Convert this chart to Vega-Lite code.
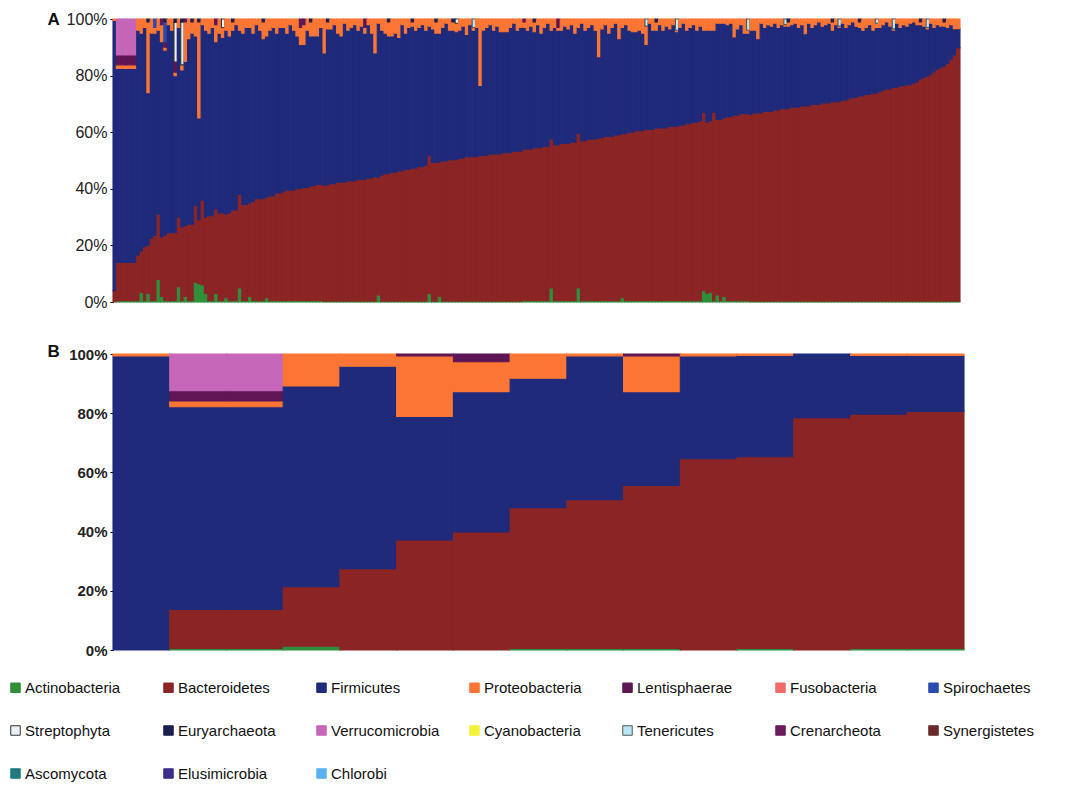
{
"$schema": "https://vega.github.io/schema/vega-lite/v6.json",
"background": "white",
"padding": {"left": 8, "top": 10, "right": 10, "bottom": 5},
"config": {"view": {"stroke": null}, "font": "Liberation Sans"},
"spacing": 52,
"bounds": "flush",
"datasets": {
"names": [
{"code":"Ac","phylum":"Actinobacteria","rank":1},
{"code":"Ba","phylum":"Bacteroidetes","rank":2},
{"code":"Fi","phylum":"Firmicutes","rank":3},
{"code":"Pr","phylum":"Proteobacteria","rank":4},
{"code":"Le","phylum":"Lentisphaerae","rank":5},
{"code":"Fu","phylum":"Fusobacteria","rank":6},
{"code":"Sp","phylum":"Spirochaetes","rank":7},
{"code":"St","phylum":"Streptophyta","rank":8},
{"code":"Eu","phylum":"Euryarchaeota","rank":9},
{"code":"Ve","phylum":"Verrucomicrobia","rank":10},
{"code":"Te","phylum":"Tenericutes","rank":11}
],
"B": [
{"s":1,"Fi":99.3,"Pr":0.7},
{"s":2,"Ac":0.5,"Ba":13.2,"Fi":68.5,"Pr":1.9,"Le":3.5,"Ve":12.4},
{"s":3,"Ac":0.5,"Ba":13.2,"Fi":68.5,"Pr":1.9,"Le":3.5,"Ve":12.4},
{"s":4,"Ac":1.3,"Ba":20.1,"Fi":67.8,"Pr":10.8},
{"s":5,"Ba":27.5,"Fi":68.4,"Pr":4.1},
{"s":6,"Ba":37.2,"Fi":41.7,"Pr":20.4,"Le":0.7},
{"s":7,"Ba":39.9,"Fi":47.4,"Pr":10.1,"Le":2.6},
{"s":8,"Ac":0.5,"Ba":47.6,"Fi":43.7,"Pr":8.2},
{"s":9,"Ac":0.5,"Ba":50.3,"Fi":48.5,"Pr":0.7},
{"s":10,"Ac":0.5,"Ba":55.1,"Fi":31.7,"Pr":12,"Le":0.7},
{"s":11,"Ba":64.6,"Fi":34.7,"Pr":0.7},
{"s":12,"Ac":0.5,"Ba":64.8,"Fi":34.2,"Pr":0.5},
{"s":13,"Ba":78.5,"Fi":21.5},
{"s":14,"Ac":0.5,"Ba":79.2,"Fi":19.8,"Pr":0.5},
{"s":15,"Ac":0.5,"Ba":80.1,"Fi":18.9,"Pr":0.5}
],
"A": [
{"s":0,"Ba":4,"Fi":95.5,"Pr":0.5},
{"s":1,"Ac":0.5,"Ba":13.5,"Fi":68.5,"Pr":1.3,"Le":3.5,"Ve":12.7},
{"s":2,"Ac":0.5,"Ba":13.5,"Fi":68.5,"Pr":1.3,"Le":3.5,"Ve":12.7},
{"s":3,"Ac":0.5,"Ba":13.5,"Fi":68.5,"Pr":1.3,"Le":3.5,"Ve":12.7},
{"s":4,"Ac":0.5,"Ba":13.5,"Fi":68.5,"Pr":1.3,"Le":3.5,"Ve":12.7},
{"s":5,"Ac":0.5,"Ba":13.5,"Fi":68.5,"Pr":1.3,"Le":3.5,"Ve":12.7},
{"s":6,"Ac":0.5,"Ba":13.5,"Fi":68.5,"Pr":1.3,"Le":3.5,"Ve":12.7},
{"s":7,"Ac":0.5,"Ba":16,"Fi":79.5,"Pr":4},
{"s":8,"Ac":3.4,"Ba":14.6,"Fi":77,"Pr":5},
{"s":9,"Ac":0.5,"Ba":19,"Fi":77.5,"Pr":3},
{"s":10,"Ac":3,"Ba":17,"Fi":54,"Pr":25,"Eu":1},
{"s":11,"Ac":0.5,"Ba":22,"Fi":72.5,"Pr":5},
{"s":12,"Ac":0.5,"Ba":23,"Fi":71.5,"Pr":2,"Sp":3},
{"s":13,"Ac":8,"Ba":23,"Fi":65,"Pr":4},
{"s":14,"Ac":2,"Ba":21,"Fi":69,"Pr":6,"Le":2},
{"s":15,"Ac":0.5,"Ba":23,"Fi":65.5,"Pr":1,"Sp":7,"Le":2,"Eu":1},
{"s":16,"Ac":0.5,"Ba":24,"Fi":73.5,"Pr":2},
{"s":17,"Ac":0.5,"Ba":24,"Fi":71.5,"Pr":4},
{"s":18,"Ac":0.5,"Ba":24,"Fi":55.5,"Pr":1.2,"Le":3.6,"St":14,"Eu":1.2},
{"s":19,"Ac":5.4,"Ba":24.6,"Fi":67,"Pr":3},
{"s":20,"Ac":0.5,"Ba":26,"Fi":55.5,"Pr":1.8,"St":15.2,"Eu":1},
{"s":21,"Ac":2,"Ba":25,"Fi":58,"Pr":14,"Le":1},
{"s":22,"Ac":0.5,"Ba":27,"Fi":65.5,"Pr":7},
{"s":23,"Ac":0.5,"Ba":27,"Fi":67.5,"Pr":4,"Eu":1},
{"s":24,"Ac":7,"Ba":27,"Fi":60,"Pr":6},
{"s":25,"Ac":6.5,"Ba":22.5,"Fi":36,"Pr":34,"Eu":1},
{"s":26,"Ac":6,"Ba":30,"Fi":62,"Pr":2},
{"s":27,"Ac":3,"Ba":27,"Fi":66,"Pr":4},
{"s":28,"Ac":0.5,"Ba":30,"Fi":64.5,"Pr":5},
{"s":29,"Ac":0.5,"Ba":30,"Fi":66.5,"Pr":3},
{"s":30,"Ac":3,"Ba":30,"Fi":59,"Pr":6,"Le":2},
{"s":31,"Ac":0.5,"Ba":31,"Fi":63.5,"Pr":5},
{"s":32,"Ac":0.5,"Ba":31,"Fi":62,"Pr":3.5,"St":3},
{"s":33,"Ac":1.5,"Ba":29.5,"Fi":65,"Pr":4},
{"s":34,"Ac":0.5,"Ba":31,"Fi":62.5,"Pr":6},
{"s":35,"Ac":0.5,"Ba":32,"Fi":63.5,"Pr":3,"Eu":1},
{"s":36,"Ac":0.5,"Ba":32,"Fi":65.5,"Pr":2},
{"s":37,"Ac":5,"Ba":33,"Fi":58,"Pr":4},
{"s":38,"Ac":0.5,"Ba":34,"Fi":60.5,"Pr":5},
{"s":39,"Ac":0.5,"Ba":34,"Fi":62.5,"Pr":3},
{"s":40,"Ac":2,"Ba":33,"Fi":62,"Pr":3},
{"s":41,"Ac":0.5,"Ba":35,"Fi":59.5,"Pr":5},
{"s":42,"Ac":0.5,"Ba":36,"Fi":61.5,"Pr":2},
{"s":43,"Ac":0.5,"Ba":36,"Fi":59.5,"Pr":4},
{"s":44,"Ac":0.5,"Ba":36,"Fi":56.5,"Pr":6,"Eu":1},
{"s":45,"Ac":1.5,"Ba":35.5,"Fi":57,"Pr":6},
{"s":46,"Ac":0.5,"Ba":37,"Fi":58.5,"Pr":4},
{"s":47,"Ac":0.5,"Ba":37,"Fi":59.5,"Pr":3},
{"s":48,"Ac":0.5,"Ba":38,"Fi":56.5,"Pr":5},
{"s":49,"Ac":0.5,"Ba":38,"Fi":58.5,"Pr":3},
{"s":50,"Ac":0.5,"Ba":38.5,"Fi":58,"Pr":3},
{"s":51,"Ac":0.5,"Ba":39,"Fi":55.5,"Pr":5},
{"s":52,"Ac":0.5,"Ba":39,"Fi":58.5,"Pr":2},
{"s":53,"Ac":0.5,"Ba":39,"Fi":56.5,"Pr":4},
{"s":54,"Ac":0.5,"Ba":39.5,"Fi":54,"Pr":6},
{"s":55,"Ac":0.5,"Ba":39.5,"Fi":51,"Pr":6,"Le":3},
{"s":56,"Ac":0.5,"Ba":40,"Fi":50.5,"Pr":7,"Le":2},
{"s":57,"Ac":0.5,"Ba":40,"Fi":55.5,"Pr":4},
{"s":58,"Ac":0.5,"Ba":40.5,"Fi":53,"Pr":5,"Eu":1},
{"s":59,"Ac":0.5,"Ba":40.5,"Fi":53,"Pr":6},
{"s":60,"Ac":0.5,"Ba":41,"Fi":52.5,"Pr":6},
{"s":61,"Ac":0.5,"Ba":41,"Fi":55.5,"Pr":3},
{"s":62,"Ac":0.3,"Ba":41,"Fi":46.7,"Pr":12},
{"s":63,"Ac":0.3,"Ba":41,"Fi":55.2,"Pr":2.5,"Eu":1},
{"s":64,"Ac":0.3,"Ba":41.5,"Fi":54.7,"Pr":3.5},
{"s":65,"Ac":0.3,"Ba":41.5,"Fi":56.2,"Pr":2},
{"s":66,"Ac":0.3,"Ba":42,"Fi":52.7,"Pr":5},
{"s":67,"Ac":0.3,"Ba":42,"Fi":51.7,"Pr":6},
{"s":68,"Ac":0.3,"Ba":42,"Fi":56.2,"Pr":1.5},
{"s":69,"Ac":0.3,"Ba":42.5,"Fi":53.2,"Pr":4},
{"s":70,"Ac":0.3,"Ba":42.5,"Fi":54.2,"Pr":3},
{"s":71,"Ac":0.3,"Ba":42.5,"Fi":55.2,"Pr":2},
{"s":72,"Ac":0.3,"Ba":43,"Fi":52.7,"Pr":4},
{"s":73,"Ac":0.3,"Ba":43,"Fi":54.2,"Pr":2.5},
{"s":74,"Ac":0.3,"Ba":43,"Fi":51.7,"Pr":2,"Le":3},
{"s":75,"Ac":0.3,"Ba":43.5,"Fi":54.2,"Pr":2},
{"s":76,"Ac":0.3,"Ba":43.5,"Fi":51.2,"Pr":5},
{"s":77,"Ac":0.3,"Ba":44,"Fi":43.7,"Pr":12},
{"s":78,"Ac":2.5,"Ba":41.5,"Fi":54.5,"Pr":1.5},
{"s":79,"Ac":0.3,"Ba":44.5,"Fi":51.2,"Pr":4},
{"s":80,"Ac":0.3,"Ba":45,"Fi":49.7,"Pr":5},
{"s":81,"Ac":0.3,"Ba":45,"Fi":48.7,"Pr":5,"Eu":1},
{"s":82,"Ac":0.3,"Ba":45.5,"Fi":48.2,"Pr":6},
{"s":83,"Ac":0.3,"Ba":45.5,"Fi":49.2,"Pr":5},
{"s":84,"Ac":0.3,"Ba":46,"Fi":47.2,"Pr":6.5},
{"s":85,"Ac":0.3,"Ba":46,"Fi":51.7,"Pr":2},
{"s":86,"Ac":0.3,"Ba":46.5,"Fi":48.2,"Pr":5},
{"s":87,"Ac":0.3,"Ba":46.5,"Fi":50.2,"Pr":3},
{"s":88,"Ac":0.3,"Ba":47,"Fi":50.2,"Pr":1.5,"Eu":1},
{"s":89,"Ac":0.3,"Ba":47,"Fi":48.7,"Pr":4},
{"s":90,"Ac":0.3,"Ba":47.5,"Fi":49.2,"Pr":3},
{"s":91,"Ac":0.3,"Ba":47.5,"Fi":50.2,"Pr":2},
{"s":92,"Ac":0.3,"Ba":48,"Fi":47.7,"Pr":4},
{"s":93,"Ac":3,"Ba":48.7,"Fi":45.8,"Pr":2.5},
{"s":94,"Ac":0.3,"Ba":49,"Fi":47.2,"Pr":3.5},
{"s":95,"Ac":0.3,"Ba":49,"Fi":45.7,"Pr":4,"Eu":1},
{"s":96,"Ac":2,"Ba":47.5,"Fi":45.5,"Pr":5},
{"s":97,"Ac":0.3,"Ba":49.5,"Fi":47.2,"Pr":3},
{"s":98,"Ac":0.3,"Ba":49.5,"Fi":48.7,"Pr":1.5},
{"s":99,"Ac":0.3,"Ba":50,"Fi":45.7,"Pr":4},
{"s":100,"Ac":0.3,"Ba":50,"Fi":45.7,"Pr":3,"Eu":1},
{"s":101,"Ac":0.3,"Ba":50,"Fi":45.2,"Pr":3,"St":1.5},
{"s":102,"Ac":0.3,"Ba":50.5,"Fi":45.2,"Pr":4},
{"s":103,"Ac":0.3,"Ba":50.5,"Fi":46.7,"Pr":2.5},
{"s":104,"Ac":0.3,"Ba":51,"Fi":43.2,"Pr":5.5},
{"s":105,"Ac":0.3,"Ba":51,"Fi":46.7,"Pr":2},
{"s":106,"Ac":0.3,"Ba":51,"Fi":44.7,"Pr":1,"Te":3},
{"s":107,"Ac":0.3,"Ba":51,"Fi":45.7,"Pr":3},
{"s":108,"Ac":0.3,"Ba":51.5,"Fi":24.7,"Pr":23.5},
{"s":109,"Ac":0.3,"Ba":51.5,"Fi":44.2,"Pr":4},
{"s":110,"Ac":0.3,"Ba":51.5,"Fi":45.2,"Pr":3},
{"s":111,"Ac":0.3,"Ba":52,"Fi":45.7,"Pr":2},
{"s":112,"Ac":0.3,"Ba":52,"Fi":43.7,"Pr":4},
{"s":113,"Ac":0.3,"Ba":52,"Fi":45.2,"Pr":2.5},
{"s":114,"Ac":0.3,"Ba":52,"Fi":43.2,"Pr":4.5},
{"s":115,"Ac":0.3,"Ba":52.5,"Fi":42.7,"Pr":4.5},
{"s":116,"Ac":0.3,"Ba":52.5,"Fi":42.7,"Pr":4.5},
{"s":117,"Ac":0.3,"Ba":52.5,"Fi":44.2,"Pr":3},
{"s":118,"Ac":0.3,"Ba":53,"Fi":45.2,"Pr":1.5},
{"s":119,"Ac":0.3,"Ba":53,"Fi":42.7,"Pr":4},
{"s":120,"Ac":0.3,"Ba":53,"Fi":43.7,"Pr":3},
{"s":121,"Ac":0.5,"Ba":53.5,"Fi":43,"Pr":2,"Le":1},
{"s":122,"Ac":0.5,"Ba":53.5,"Fi":42,"Pr":4},
{"s":123,"Ac":0.5,"Ba":53.5,"Fi":43.5,"Pr":2.5},
{"s":124,"Ac":0.5,"Ba":54,"Fi":41,"Pr":3.5,"Eu":1},
{"s":125,"Ac":0.5,"Ba":54,"Fi":43.5,"Pr":2},
{"s":126,"Ac":0.5,"Ba":54,"Fi":40.5,"Pr":5},
{"s":127,"Ac":0.5,"Ba":54.5,"Fi":42,"Pr":3},
{"s":128,"Ac":0.5,"Ba":54.5,"Fi":43.5,"Pr":1.5},
{"s":129,"Ac":5,"Ba":52.6,"Fi":38.4,"Pr":4},
{"s":130,"Ac":0.5,"Ba":55,"Fi":41.5,"Pr":3},
{"s":131,"Ac":0.5,"Ba":55,"Fi":40.5,"Pr":1,"Le":3},
{"s":132,"Ac":0.5,"Ba":55.5,"Fi":40,"Pr":4},
{"s":133,"Ac":0.5,"Ba":55.5,"Fi":41.5,"Pr":2.5},
{"s":134,"Ac":0.5,"Ba":55.5,"Fi":40.5,"Pr":3.5},
{"s":135,"Ac":0.5,"Ba":56,"Fi":41.5,"Pr":2},
{"s":136,"Ac":0.5,"Ba":56,"Fi":38.5,"Pr":5},
{"s":137,"Ac":5,"Ba":54.6,"Fi":37.4,"Pr":3},
{"s":138,"Ac":0.5,"Ba":56.5,"Fi":41.5,"Pr":1.5},
{"s":139,"Ac":0.5,"Ba":56.5,"Fi":39,"Pr":4},
{"s":140,"Ac":0.5,"Ba":57,"Fi":39.5,"Pr":3},
{"s":141,"Ac":0.5,"Ba":57,"Fi":40.5,"Pr":2},
{"s":142,"Ac":0.5,"Ba":57,"Fi":38.5,"Pr":4},
{"s":143,"Ac":0.5,"Ba":57.5,"Fi":28.7,"Pr":13.3},
{"s":144,"Ac":0.5,"Ba":57.5,"Fi":38.5,"Pr":3.5},
{"s":145,"Ac":0.5,"Ba":58,"Fi":39.5,"Pr":2},
{"s":146,"Ac":0.5,"Ba":58,"Fi":36.5,"Pr":5},
{"s":147,"Ac":0.5,"Ba":58,"Fi":38.5,"Pr":3},
{"s":148,"Ac":0.5,"Ba":58.5,"Fi":39.5,"Pr":1.5},
{"s":149,"Ac":0.5,"Ba":58.5,"Fi":34,"Pr":7},
{"s":150,"Ac":1.5,"Ba":58,"Fi":37.5,"Pr":3},
{"s":151,"Ac":0.5,"Ba":59,"Fi":38.5,"Pr":2},
{"s":152,"Ac":0.5,"Ba":59.5,"Fi":36,"Pr":4},
{"s":153,"Ac":0.5,"Ba":59.5,"Fi":35.5,"Pr":4.5},
{"s":154,"Ac":0.5,"Ba":60,"Fi":35,"Pr":4.5},
{"s":155,"Ac":0.5,"Ba":60,"Fi":35.5,"Pr":4},
{"s":156,"Ac":0.5,"Ba":60,"Fi":34.5,"Pr":5},
{"s":157,"Ac":0.5,"Ba":60.5,"Fi":30,"Pr":6.5,"Te":2.5},
{"s":158,"Ac":0.5,"Ba":60.5,"Fi":37.5,"Pr":1.5},
{"s":159,"Ac":0.5,"Ba":60.5,"Fi":35,"Pr":4},
{"s":160,"Ac":0.5,"Ba":61,"Fi":34.5,"Pr":3,"Eu":1},
{"s":161,"Ac":0.5,"Ba":61,"Fi":36.5,"Pr":2},
{"s":162,"Ac":0.5,"Ba":61,"Fi":34.5,"Pr":4},
{"s":163,"Ac":0.5,"Ba":61,"Fi":36,"Pr":2.5},
{"s":164,"Ac":0.5,"Ba":61.5,"Fi":34.5,"Pr":3.5},
{"s":165,"Ac":0.5,"Ba":61.5,"Fi":36,"Pr":2},
{"s":166,"Ac":0.5,"Ba":61.5,"Fi":33.5,"Pr":0.5,"Te":4},
{"s":167,"Ac":0.5,"Ba":62,"Fi":34.5,"Pr":3},
{"s":168,"Ac":0.5,"Ba":62,"Fi":36,"Pr":1.5},
{"s":169,"Ac":0.5,"Ba":62.5,"Fi":33,"Pr":4},
{"s":170,"Ac":0.5,"Ba":62.5,"Fi":34,"Pr":3},
{"s":171,"Ac":0.5,"Ba":63,"Fi":34.5,"Pr":2},
{"s":172,"Ac":0.5,"Ba":63,"Fi":32.5,"Pr":4},
{"s":173,"Ac":0.5,"Ba":63.5,"Fi":33.5,"Pr":2.5},
{"s":174,"Ac":4,"Ba":63,"Fi":29,"Pr":4},
{"s":175,"Ac":3,"Ba":60.5,"Fi":32.5,"Pr":4},
{"s":176,"Ac":3.5,"Ba":60.5,"Fi":32,"Pr":4},
{"s":177,"Ac":0.5,"Ba":66.5,"Fi":29,"Pr":4},
{"s":178,"Ac":2.5,"Ba":62,"Fi":34,"Pr":1.5},
{"s":179,"Ac":0.5,"Ba":64,"Fi":34,"Pr":1.5},
{"s":180,"Ac":2,"Ba":63,"Fi":33.5,"Pr":1.5},
{"s":181,"Ac":0.5,"Ba":65,"Fi":32.5,"Pr":2},
{"s":182,"Ac":0.5,"Ba":65,"Fi":33,"Pr":1.5},
{"s":183,"Ac":0.5,"Ba":65.5,"Fi":27.7,"Pr":6.3},
{"s":184,"Ac":0.5,"Ba":65.5,"Fi":30.5,"Pr":3.5},
{"s":185,"Ac":0.5,"Ba":66,"Fi":31.5,"Pr":2},
{"s":186,"Ac":0.5,"Ba":66,"Fi":28.5,"Pr":5},
{"s":187,"Ac":0.5,"Ba":66,"Fi":28.5,"Pr":1,"Te":4},
{"s":188,"Ac":0.3,"Ba":66,"Fi":29.7,"Pr":4},
{"s":189,"Ac":0.3,"Ba":66.5,"Fi":29.2,"Pr":4},
{"s":190,"Ac":0.3,"Ba":66.5,"Fi":26.2,"Pr":7},
{"s":191,"Ac":0.3,"Ba":66.5,"Fi":31.7,"Pr":1.5},
{"s":192,"Ac":0.3,"Ba":67,"Fi":29.7,"Pr":3},
{"s":193,"Ac":0.3,"Ba":67,"Fi":30.7,"Pr":2},
{"s":194,"Ac":0.3,"Ba":67,"Fi":30.2,"Pr":2.5},
{"s":195,"Ac":0.3,"Ba":67.5,"Fi":30.7,"Pr":1.5},
{"s":196,"Ac":0.3,"Ba":67.5,"Fi":29.2,"Pr":3},
{"s":197,"Ac":0.3,"Ba":68,"Fi":29.7,"Pr":2},
{"s":198,"Ac":0.3,"Ba":68,"Fi":29.2,"Pr":0.5,"Te":2},
{"s":199,"Ac":0.3,"Ba":68,"Fi":29.2,"Pr":1.5,"Eu":1},
{"s":200,"Ac":0.3,"Ba":68.5,"Fi":29.2,"Pr":2},
{"s":201,"Ac":0.3,"Ba":68.5,"Fi":29.7,"Pr":1.5},
{"s":202,"Ac":0.3,"Ba":68.5,"Fi":28.2,"Pr":3},
{"s":203,"Ac":0.3,"Ba":69,"Fi":28.7,"Pr":2},
{"s":204,"Ac":0.3,"Ba":69,"Fi":25.5,"Pr":5.2},
{"s":205,"Ac":0.3,"Ba":69,"Fi":29.2,"Pr":1.5},
{"s":206,"Ac":0.3,"Ba":69.5,"Fi":27.2,"Pr":3},
{"s":207,"Ac":0.3,"Ba":69.5,"Fi":28.2,"Pr":2},
{"s":208,"Ac":0.3,"Ba":69.5,"Fi":29.2,"Pr":1},
{"s":209,"Ac":0.3,"Ba":70,"Fi":27.2,"Pr":2.5},
{"s":210,"Ac":0.3,"Ba":70,"Fi":27.7,"Pr":2},
{"s":211,"Ac":0.3,"Ba":70,"Fi":28.2,"Pr":1.5},
{"s":212,"Ac":0.3,"Ba":70.5,"Fi":25.2,"Pr":3,"Eu":1},
{"s":213,"Ac":0.3,"Ba":70.5,"Fi":27.2,"Pr":2},
{"s":214,"Ac":0.3,"Ba":70.5,"Fi":26.2,"Pr":0.5,"Te":2.5},
{"s":215,"Ac":0.3,"Ba":71,"Fi":27.2,"Pr":1.5},
{"s":216,"Ac":0.3,"Ba":71,"Fi":25.7,"Pr":3},
{"s":217,"Ac":0.3,"Ba":71.5,"Fi":26.2,"Pr":2},
{"s":218,"Ac":0.3,"Ba":72,"Fi":26.7,"Pr":1},
{"s":219,"Ac":0.3,"Ba":72,"Fi":25.2,"Pr":2.5},
{"s":220,"Ac":0.3,"Ba":72.5,"Fi":24.2,"Pr":2,"Eu":1},
{"s":221,"Ac":0.3,"Ba":72.5,"Fi":23.2,"Pr":4},
{"s":222,"Ac":0.3,"Ba":73,"Fi":23.7,"Pr":3},
{"s":223,"Ac":0.3,"Ba":73,"Fi":24.7,"Pr":2},
{"s":224,"Ac":0.3,"Ba":73.5,"Fi":22.2,"Pr":4},
{"s":225,"Ac":0.3,"Ba":73.5,"Fi":23.2,"Pr":1.5,"Te":1.5},
{"s":226,"Ac":0.3,"Ba":74,"Fi":22.7,"Pr":3},
{"s":227,"Ac":0.3,"Ba":74.5,"Fi":23.2,"Pr":2},
{"s":228,"Ac":0.3,"Ba":75,"Fi":23.7,"Pr":1},
{"s":229,"Ac":0.3,"Ba":75,"Fi":22.2,"Pr":2.5},
{"s":230,"Ac":0.3,"Ba":75.5,"Fi":20.2,"Pr":0.5,"Te":3.5},
{"s":231,"Ac":0.3,"Ba":75.5,"Fi":22.7,"Pr":1.5},
{"s":232,"Ac":0.3,"Ba":76,"Fi":20.7,"Pr":3},
{"s":233,"Ac":0.3,"Ba":76,"Fi":21.7,"Pr":2},
{"s":234,"Ac":0.3,"Ba":76.5,"Fi":20.7,"Pr":2.5},
{"s":235,"Ac":0.3,"Ba":76.5,"Fi":21.7,"Pr":1.5},
{"s":236,"Ac":0.3,"Ba":77,"Fi":21.7,"Pr":1},
{"s":237,"Ac":0.3,"Ba":77.5,"Fi":20.2,"Pr":2},
{"s":238,"Ac":0.3,"Ba":78.5,"Fi":19.2,"Pr":1,"Eu":1},
{"s":239,"Ac":0.3,"Ba":79,"Fi":18.2,"Pr":2.5},
{"s":240,"Ac":0.3,"Ba":79.5,"Fi":16.7,"Pr":0.5,"Te":3},
{"s":241,"Ac":0.3,"Ba":80,"Fi":18.2,"Pr":1.5},
{"s":242,"Ac":0.3,"Ba":81,"Fi":15.7,"Pr":3},
{"s":243,"Ac":0.3,"Ba":82,"Fi":15.7,"Pr":2},
{"s":244,"Ac":0.3,"Ba":82.5,"Fi":14.7,"Pr":2.5},
{"s":245,"Ac":0.3,"Ba":83,"Fi":14.2,"Pr":1.5,"Eu":1},
{"s":246,"Ac":0.3,"Ba":84,"Fi":12.7,"Pr":3},
{"s":247,"Ac":0.3,"Ba":85.5,"Fi":12.2,"Pr":2},
{"s":248,"Ac":0.3,"Ba":87,"Fi":9.3,"Pr":3.4},
{"s":249,"Ac":0.3,"Ba":89.5,"Fi":6.8,"Pr":3.4}
]
},
"vconcat": [
{
"width": 847, "height": 283,
"data": {"name": "A"},
"transform": [
{"fold": ["Ac","Ba","Fi","Pr","Le","Fu","Sp","St","Eu","Ve","Te"], "as": ["code","value"]},
{"filter": "datum.value > 0"},
{"lookup": "code", "from": {"data": {"name": "names"}, "key": "code", "fields": ["phylum","rank"]}}
],
"mark": {"type": "bar", "strokeWidth": 1.1},
"encoding": {
"x": {"field": "s", "type": "ordinal", "axis": null, "scale": {"paddingInner": 0, "paddingOuter": 0}},
"y": {"field": "value", "type": "quantitative", "stack": "normalize", "scale": {"domain": [0,1], "nice": false},
"axis": {"values": [0,0.2,0.4,0.6,0.8,1], "format": ".0%", "grid": false, "title": "A", "titleAngle": 0, "titleX": -66, "titleY": 0, "titleAlign": "left", "titleBaseline": "middle", "titleFontSize": 17, "titleFontWeight": "bold", "titleFont": "Liberation Sans", "titleColor": "#111", "labelFont": "Liberation Sans", "labelFontSize": 16, "labelColor": "#222", "domainColor": "#000", "tickColor": "#000", "tickSize": 3, "labelPadding": 3}},
"color": {"field": "phylum", "type": "nominal",
"scale": {"domain": ["Actinobacteria","Bacteroidetes","Firmicutes","Proteobacteria","Lentisphaerae","Fusobacteria","Spirochaetes","Streptophyta","Euryarchaeota","Verrucomicrobia","Cyanobacteria","Tenericutes","Crenarcheota","Synergistetes","Ascomycota","Elusimicrobia","Chlorobi"],
"range": ["#2f8f3a","#8b2525","#1f2a7a","#fb7634","#5e1654","#f26b6b","#2a4bb0","#e8f0f8","#1b1f4d","#c566b8","#f2f23a","#b8e8f2","#6b1b5e","#6b2a2a","#1f7a7f","#3d2d8a","#5ab3f0"]},
"legend": {"orient": "none", "legendX": -105, "legendY": 661, "direction": "horizontal", "columns": 7, "title": null, "symbolType": "square", "symbolSize": 90, "symbolStrokeColor": "#333", "symbolStrokeWidth": 1, "labelFont": "Liberation Sans", "labelFontSize": 15, "labelColor": "#111", "columnPadding": 27, "rowPadding": 27, "gridAlign": "all", "labelLimit": 200, "labelOffset": 2}},
"stroke": {"field": "phylum", "type": "nominal", "legend": null,
"scale": {"domain": ["Actinobacteria","Bacteroidetes","Firmicutes","Proteobacteria","Lentisphaerae","Fusobacteria","Spirochaetes","Streptophyta","Euryarchaeota","Verrucomicrobia","Cyanobacteria","Tenericutes","Crenarcheota","Synergistetes","Ascomycota","Elusimicrobia","Chlorobi"],
"range": ["#2f8f3a","#8b2525","#1f2a7a","#fb7634","#5e1654","#f26b6b","#2a4bb0","#333333","#1b1f4d","#c566b8","#f2f23a","#555555","#6b1b5e","#6b2a2a","#1f7a7f","#3d2d8a","#5ab3f0"]}},
"order": {"field": "rank", "type": "quantitative"}
}
},
{
"width": 851, "height": 296,
"data": {"name": "B"},
"transform": [
{"fold": ["Ac","Ba","Fi","Pr","Le","Fu","Sp","St","Eu","Ve","Te"], "as": ["code","value"]},
{"filter": "datum.value > 0"},
{"lookup": "code", "from": {"data": {"name": "names"}, "key": "code", "fields": ["phylum","rank"]}}
],
"mark": {"type": "bar", "strokeWidth": 1.1},
"encoding": {
"x": {"field": "s", "type": "ordinal", "axis": null, "scale": {"paddingInner": 0, "paddingOuter": 0}},
"y": {"field": "value", "type": "quantitative", "stack": "normalize", "scale": {"domain": [0,1], "nice": false},
"axis": {"values": [0,0.2,0.4,0.6,0.8,1], "format": ".0%", "grid": false, "title": "B", "titleAngle": 0, "titleX": -66, "titleY": -3, "titleAlign": "left", "titleBaseline": "middle", "titleFontSize": 17, "titleFontWeight": "bold", "titleFont": "Liberation Sans", "titleColor": "#111", "labelFont": "Liberation Sans", "labelFontSize": 15, "labelFontWeight": "bold", "labelColor": "#222", "domainColor": "#000", "tickColor": "#000", "tickSize": 3, "labelPadding": 3}},
"color": {"field": "phylum", "type": "nominal", "legend": null},
"stroke": {"field": "phylum", "type": "nominal", "legend": null},
"order": {"field": "rank", "type": "quantitative"}
}
}
],
"resolve": {"scale": {"color": "shared", "stroke": "shared"}}
}
